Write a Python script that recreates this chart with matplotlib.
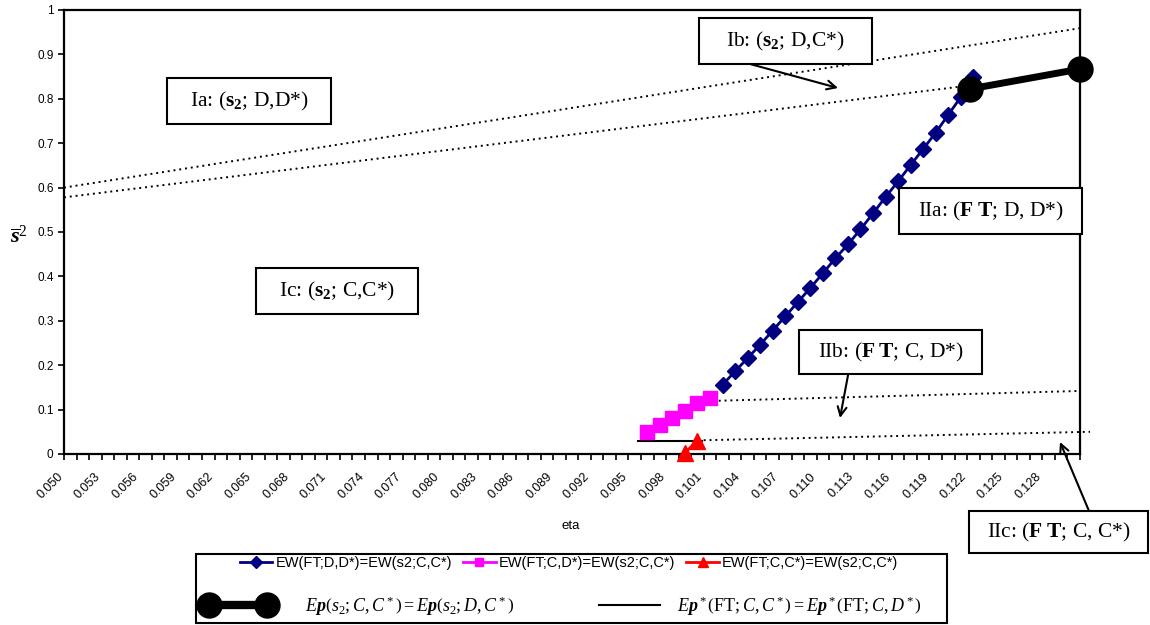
import matplotlib
matplotlib.use("Agg")
import numpy as np
import matplotlib.pyplot as plt
import matplotlib.transforms as mtrans
from matplotlib.lines import Line2D
from matplotlib.patches import Rectangle
from matplotlib.ticker import MultipleLocator, FormatStrFormatter

plt.rcParams['font.family'] = ['Liberation Sans', 'DejaVu Sans']
plt.rcParams['mathtext.fontset'] = 'custom'
plt.rcParams['mathtext.rm'] = 'Liberation Serif'
plt.rcParams['mathtext.it'] = 'Liberation Serif:italic'
plt.rcParams['mathtext.bf'] = 'Liberation Serif:bold'
plt.rcParams['mathtext.bfit'] = 'Liberation Serif:bold:italic'

# EW(FT;D,D*)=EW(s2;C,C*)
dd_eta = [0.1025, 0.1035, 0.1045, 0.1055, 0.1065, 0.1075, 0.1085, 0.1095, 0.1105,
          0.1115, 0.1125, 0.1135, 0.1145, 0.1155, 0.1165, 0.1175, 0.1185, 0.1195,
          0.1205, 0.1215, 0.1225]
dd_s2 = [0.156, 0.186, 0.216, 0.246, 0.278, 0.310, 0.342, 0.374, 0.407, 0.441, 0.472,
         0.506, 0.542, 0.579, 0.614, 0.651, 0.687, 0.724, 0.764, 0.804, 0.848]

# EW(FT;C,D*)=EW(s2;C,C*)
cd_eta = [0.0965, 0.0975, 0.0985, 0.0995, 0.1005, 0.1015]
cd_s2 = [0.050, 0.065, 0.081, 0.097, 0.115, 0.126]

# EW(FT;C,C*)=EW(s2;C,C*)
cc_eta = [0.0995, 0.1005]
cc_s2 = [0.003, 0.030]

# Ep(s2;C,C*) = Ep(s2;D,C*)
ep_eta = [0.1222, 0.1310]
ep_s2 = [0.822, 0.867]

# Ep*(FT;C,C*) = Ep*(FT;C,D*)
ft_eta = [0.0958, 0.1009]
ft_s2 = [0.029, 0.029]

# dotted region boundaries
bnd1_eta, bnd1_s2 = [0.050, 0.131], [0.600, 0.959]
bnd2_eta, bnd2_s2 = [0.050, 0.1222], [0.578, 0.830]
bnd3_eta, bnd3_s2 = [0.1022, 0.131], [0.120, 0.142]
bnd4_eta, bnd4_s2 = [0.1010, 0.1318], [0.031, 0.050]

W, H = 1150, 625
fig = plt.figure(figsize=(W / 100, H / 100), dpi=100)
ax = fig.add_axes([64 / W, 1 - 454 / H, 1016 / W, 444 / H])

dot = (0, (1, 2))
for xs, ys in [(bnd1_eta, bnd1_s2), (bnd2_eta, bnd2_s2), (bnd3_eta, bnd3_s2), (bnd4_eta, bnd4_s2)]:
    ax.plot(xs, ys, color='black', lw=1.4, linestyle=dot, clip_on=False, zorder=2)

ax.plot(ft_eta, ft_s2, color='black', lw=1.5, zorder=3)
ax.plot(dd_eta, dd_s2, color='#000080', lw=2, marker='D', markersize=8, zorder=4)
ax.plot(cd_eta, cd_s2, color='#FF00FF', lw=2, marker='s', markersize=10, zorder=4)
ax.plot(cc_eta, cc_s2, color='red', lw=2, marker='^', markersize=11, clip_on=False, zorder=5)
ax.plot(ep_eta, ep_s2, color='black', lw=5, marker='o', markersize=18, clip_on=False, zorder=6)

ax.set_xlim(0.050, 0.131)
ax.set_ylim(0, 1)
ax.set_xticks(np.round(np.arange(0.050, 0.1295, 0.003), 3))
ax.xaxis.set_minor_locator(MultipleLocator(0.001))
ax.xaxis.set_major_formatter(FormatStrFormatter('%.3f'))
ax.yaxis.set_major_locator(MultipleLocator(0.1))
ax.yaxis.set_major_formatter(FormatStrFormatter('%g'))
ax.tick_params(axis='x', which='both', direction='out', length=4, width=1.2, labelsize=9, pad=11)
ax.tick_params(axis='y', direction='out', length=4.5, width=1.2, labelsize=8.5, pad=3)
shift = mtrans.ScaledTranslation(-2 / 72, 0, fig.dpi_scale_trans)
for lab in ax.get_xticklabels():
    lab.set_rotation(45)
    lab.set_ha('right')
    lab.set_va('center')
    lab.set_rotation_mode('anchor')
    lab.set_transform(lab.get_transform() + shift)
for sp in ax.spines.values():
    sp.set_linewidth(1.6)

fig.text(571 / W, 1 - 526 / H, 'eta', fontsize=9.5, ha='center', va='center')
fig.text(19 / W, 1 - 236 / H, r'$\overline{\mathbfit{s}}^{2}$', fontsize=16, ha='center', va='center')

# region labels
def region_box(x0, y0, x1, y1, label):
    fig.add_artist(Rectangle((x0 / W, 1 - y1 / H), (x1 - x0) / W, (y1 - y0) / H,
                             transform=fig.transFigure, facecolor='white',
                             edgecolor='black', lw=1.5, zorder=5))
    fig.text((x0 + x1) / 2 / W, 1 - (y0 + y1) / 2 / H, label, fontsize=15.5,
             family='Liberation Serif', ha='center', va='center', zorder=6)

region_box(167, 78, 331, 124, r'Ia: ($\mathbf{s_2}$; D,D*)')
region_box(699, 18, 872, 64, r'Ib: ($\mathbf{s_2}$; D,C*)')
region_box(256, 268, 418, 314, r'Ic: ($\mathbf{s_2}$; C,C*)')
region_box(899, 188, 1082, 234, r'IIa: ($\mathbf{F\;T}$; D, D*)')
region_box(799, 330, 982, 374, r'IIb: ($\mathbf{F\;T}$; C, D*)')
region_box(969, 511, 1148, 553, r'IIc: ($\mathbf{F\;T}$; C, C*)')

def arrow(x1, y1, x2, y2):
    ax.annotate('', xy=(x2, H - y2), xytext=(x1, H - y1), xycoords='figure pixels',
                textcoords='figure pixels', annotation_clip=False,
                arrowprops=dict(arrowstyle='->', lw=1.5, color='black',
                                mutation_scale=16, shrinkA=0, shrinkB=0))

arrow(728, 58, 838, 88)
arrow(849, 370, 840, 418)
arrow(1089, 511, 1060, 442)

# legend
fig.add_artist(Rectangle((196 / W, 1 - 623 / H), (947 - 196) / W, (623 - 554) / H,
                         transform=fig.transFigure, facecolor='white',
                         edgecolor='black', lw=1.5, zorder=1))
h1 = [Line2D([], [], color='#000080', lw=2, marker='D', markersize=6),
      Line2D([], [], color='#FF00FF', lw=2, marker='s', markersize=6),
      Line2D([], [], color='red', lw=2, marker='^', markersize=7)]
l1 = ['EW(FT;D,D*)=EW(s2;C,C*)', 'EW(FT;C,D*)=EW(s2;C,C*)', 'EW(FT;C,C*)=EW(s2;C,C*)']
leg1 = fig.legend(h1, l1, loc='center', bbox_to_anchor=(569 / W, 1 - 563 / H), ncol=3,
                  frameon=False, fontsize=10.5, numpoints=1, handlelength=2.2,
                  handletextpad=0.2, columnspacing=0.8, borderpad=0)
leg2 = fig.legend([Line2D([], [], color='black', lw=6, marker='o', markersize=18)],
                  [r'$E\mathbfit{p}\left(s_2;C,C^*\right)=E\mathbfit{p}\left(s_2;D,C^*\right)$'],
                  loc='center left', bbox_to_anchor=(204 / W, 1 - 606 / H), frameon=False,
                  fontsize=13, numpoints=2, handlelength=3.8, handletextpad=1.8, borderpad=0,
                  borderaxespad=0)
leg3 = fig.legend([Line2D([], [], color='black', lw=1.5)],
                  [r'$E\mathbfit{p}^*\left(\mathrm{FT};C,C^*\right)=E\mathbfit{p}^*\left(\mathrm{FT};C,D^*\right)$'],
                  loc='center left', bbox_to_anchor=(599 / W, 1 - 606 / H), frameon=False,
                  fontsize=13, handlelength=3.4, handletextpad=0.9, borderpad=0,
                  borderaxespad=0)
for lg in (leg1, leg2, leg3):
    lg.set_zorder(3)

fig.savefig('out.png', dpi=100)
